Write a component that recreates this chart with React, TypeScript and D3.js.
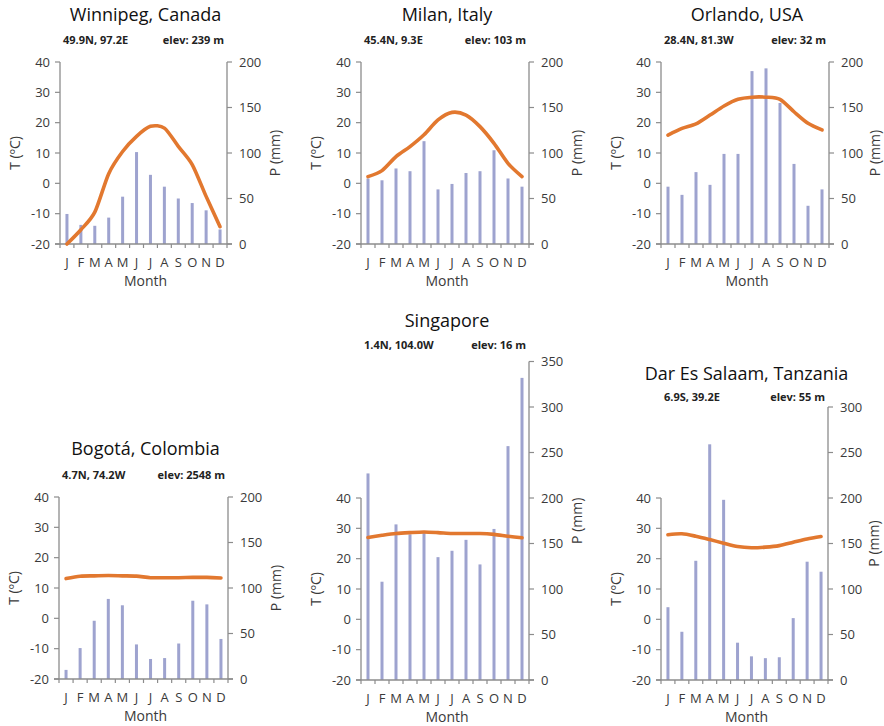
import React from "react";
import * as d3 from "d3";

const MONTHS = ["J", "F", "M", "A", "M", "J", "J", "A", "S", "O", "N", "D"];
const T_TICKS = [-20, -10, 0, 10, 20, 30, 40];

const winnipegTemp = [-20, -15.3, -9.5, 3.2, 10.5, 15.5, 18.8, 18.2, 12.2, 6.2, -4.3, -14.3];
const winnipegPrecip = [33, 21, 20, 29, 52, 101, 76, 63, 50, 45, 37, 16];

const milanTemp = [2.2, 4.2, 8.8, 12.1, 16, 20.9, 23.4, 22.5, 18.7, 13.2, 6.6, 2.2];
const milanPrecip = [72, 70, 83, 80, 113, 60, 66, 78, 80, 103, 72, 63];

const orlandoTemp = [15.9, 18.1, 19.6, 22.5, 25.5, 27.7, 28.4, 28.4, 27.7, 23.6, 19.8, 17.6];
const orlandoPrecip = [63, 54, 79, 65, 99, 99, 190, 193, 155, 88, 42, 60];

const bogotaTemp = [13.1, 13.9, 14, 14.1, 14, 13.9, 13.4, 13.4, 13.4, 13.5, 13.5, 13.3];
const bogotaPrecip = [10, 34, 64, 88, 81, 38, 22, 23, 39, 86, 82, 44];

const singaporeTemp = [27, 27.7, 28.3, 28.6, 28.8, 28.6, 28.3, 28.3, 28.3, 28, 27.4, 26.9];
const singaporePrecip = [227, 108, 171, 160, 162, 135, 142, 154, 127, 166, 257, 332];

const darTemp = [27.9, 28.2, 27.4, 26.3, 25.1, 24, 23.6, 23.8, 24.3, 25.4, 26.5, 27.3];
const darPrecip = [80, 53, 131, 259, 198, 41, 26, 24, 25, 68, 130, 119];

const TITLES = ["Winnipeg, Canada", "Milan, Italy", "Orlando, USA", "Bogotá, Colombia", "Singapore", "Dar Es Salaam, Tanzania"];
const COORDS = ["49.9N, 97.2E", "45.4N, 9.3E", "28.4N, 81.3W", "4.7N, 74.2W", "1.4N, 104.0W", "6.9S, 39.2E"];
const ELEVS = ["elev: 239 m", "elev: 103 m", "elev: 32 m", "elev: 2548 m", "elev: 16 m", "elev: 55 m"];
const P_MAX = [200, 200, 200, 200, 350, 300];
const TEMPS = [winnipegTemp, milanTemp, orlandoTemp, bogotaTemp, singaporeTemp, darTemp];
const PRECIPS = [winnipegPrecip, milanPrecip, orlandoPrecip, bogotaPrecip, singaporePrecip, darPrecip];

// layout (pixels)
const LAYOUT = [
  { left: 60, right: 227, top: 62, bottom: 244, titleY: 21, subY: 44, pLab: 48 },
  { left: 361, right: 529, top: 62, bottom: 244, titleY: 21, subY: 44, pLab: 48 },
  { left: 661, right: 829, top: 62, bottom: 244, titleY: 21, subY: 44, pLab: 46 },
  { left: 59, right: 228, top: 497, bottom: 679, titleY: 455, subY: 479, pLab: 48 },
  { left: 361, right: 529, top: 498, bottom: 680, titleY: 327, subY: 349, pLab: 48 },
  { left: 661, right: 828, top: 498, bottom: 680, titleY: 380, subY: 401, pLab: 46 },
];

const AXIS = "#8c8c8c";
const TEXT = "#3a3a3a";
const BAR = "#9ea3cf";
const LINE = "#e2782f";
const FONT = "'Open Sans', 'DejaVu Sans', sans-serif";

function Panel({ i }: { i: number }) {
  const L = LAYOUT[i];
  const temp = TEMPS[i];
  const precip = PRECIPS[i];
  const pMax = P_MAX[i];
  const pxPer = (L.bottom - L.top) / 200;
  const x = d3.scaleBand<number>().domain(d3.range(12)).range([L.left, L.right]);
  const yT = d3.scaleLinear().domain([-20, 40]).range([L.bottom, L.top]);
  const yP = d3.scaleLinear().domain([0, pMax]).range([L.bottom, L.bottom - pMax * pxPer]);
  const pTicks = d3.range(0, pMax + 1, 50);
  const line = d3
    .line<number>()
    .x((_, k) => (x(k) as number) + x.bandwidth() / 2)
    .y((d) => yT(d))
    .curve(d3.curveCardinal.tension(0.2));
  const cx = (L.left + L.right) / 2 + 2;
  const midT = (L.top + L.bottom) / 2;
  const midP = (yP(pMax) + L.bottom) / 2;
  return (
    <g fontFamily={FONT}>
      <text x={cx} y={L.titleY} textAnchor="middle" fontSize={18} fill="#111">
        {TITLES[i]}
      </text>
      <text x={L.left + 3} y={L.subY} fontSize={11} fontWeight="bold" fill="#222">
        {COORDS[i]}
      </text>
      <text x={L.right - 3} y={L.subY} fontSize={11} fontWeight="bold" fill="#222" textAnchor="end">
        {ELEVS[i]}
      </text>
      {precip.map((p, k) => (
        <rect
          key={k}
          x={(x(k) as number) + x.bandwidth() / 2 - 1.5}
          width={3}
          y={yP(p)}
          height={L.bottom - yP(p)}
          fill={BAR}
        />
      ))}
      {/* axes */}
      <line x1={L.left} x2={L.left} y1={L.top} y2={L.bottom} stroke={AXIS} strokeWidth={1.3} />
      <line x1={L.right} x2={L.right} y1={yP(pMax)} y2={L.bottom} stroke={AXIS} strokeWidth={1.3} />
      <line x1={L.left - 5} x2={L.right + 5} y1={L.bottom} y2={L.bottom} stroke={AXIS} strokeWidth={1.3} />
      {T_TICKS.map((t) => (
        <g key={"t" + t}>
          <line x1={L.left - 5} x2={L.left} y1={yT(t)} y2={yT(t)} stroke={AXIS} strokeWidth={1.2} />
          <text x={L.left - 10} y={yT(t)} dy="0.35em" textAnchor="end" fontSize={13} fill={TEXT}>
            {t}
          </text>
        </g>
      ))}
      {pTicks.map((p) => (
        <g key={"p" + p}>
          <line x1={L.right} x2={L.right + 5} y1={yP(p)} y2={yP(p)} stroke={AXIS} strokeWidth={1.2} />
          <text x={L.right + 12} y={yP(p)} dy="0.35em" textAnchor="start" fontSize={13} fill={TEXT}>
            {p}
          </text>
        </g>
      ))}
      {d3.range(13).map((k) => {
        const xx = L.left + k * x.bandwidth();
        return <line key={"x" + k} x1={xx} x2={xx} y1={L.bottom} y2={L.bottom + 4} stroke={AXIS} strokeWidth={1.2} />;
      })}
      {MONTHS.map((m, k) => (
        <text
          key={"m" + k}
          x={(x(k) as number) + x.bandwidth() / 2}
          y={L.bottom + 18}
          dy="0.35em"
          textAnchor="middle"
          fontSize={13}
          fill={TEXT}
        >
          {m}
        </text>
      ))}
      <text x={cx} y={L.bottom + 37} dy="0.35em" textAnchor="middle" fontSize={14} fill={TEXT}>
        Month
      </text>
      <path d={line(temp) || ""} fill="none" stroke={LINE} strokeWidth={3.6} strokeLinecap="round" strokeLinejoin="round" />
      <text
        transform={`translate(${L.left - 45},${midT}) rotate(-90)`}
        textAnchor="middle"
        dy="0.35em"
        fontSize={14}
        fill={TEXT}
      >
        T (ºC)
      </text>
      <text
        transform={`translate(${L.right + L.pLab},${midP}) rotate(-90)`}
        textAnchor="middle"
        dy="0.35em"
        fontSize={14}
        fill={TEXT}
      >
        P (mm)
      </text>
    </g>
  );
}

export default function App() {
  return (
    <svg width={884} height={726} style={{ position: "absolute", left: 0, top: 0, background: "#fff" }}>
      <rect width={884} height={726} fill="#fff" />
      {d3.range(6).map((i) => (
        <Panel key={i} i={i} />
      ))}
    </svg>
  );
}
